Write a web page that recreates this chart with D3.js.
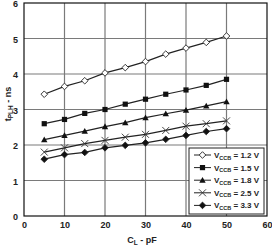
<!DOCTYPE html>
<html>
<head>
<meta charset="utf-8">
<script src="https://cdn.jsdelivr.net/npm/d3@7"></script>
<style>
  body { margin: 0; background: #fff; }
  svg { display: block; font-family: "Liberation Sans", Arial, sans-serif; }
  .tick text { font-size: 9px; font-weight: bold; fill: #222; }
</style>
</head>
<body>
<svg width="272" height="247"></svg>
<script>
const loads = [5, 10, 15, 20, 25, 30, 35, 40, 45, 50];
const v12 = [3.43, 3.65, 3.81, 4.03, 4.18, 4.35, 4.56, 4.73, 4.89, 5.07];
const v15 = [2.6, 2.72, 2.89, 3.0, 3.15, 3.29, 3.43, 3.55, 3.68, 3.85];
const v18 = [2.15, 2.27, 2.39, 2.52, 2.63, 2.77, 2.88, 2.98, 3.1, 3.22];
const v25 = [1.8, 1.92, 2.04, 2.13, 2.22, 2.3, 2.41, 2.53, 2.6, 2.68];
const v33 = [1.6, 1.73, 1.79, 1.92, 1.99, 2.06, 2.16, 2.27, 2.38, 2.46];
const seriesNames = ["1.2 V", "1.5 V", "1.8 V", "2.5 V", "3.3 V"];
const seriesSymbols = ["diamondOpen", "square", "triangle", "cross", "diamond"];
const xTicks = [0, 10, 20, 30, 40, 50, 60];
const yTicks = [0, 1, 2, 3, 4, 5, 6];

const svg = d3.select("svg"),
  margin = { top: 3, right: 5, bottom: 31, left: 24 },
  width = +svg.attr("width") - margin.left - margin.right,
  height = +svg.attr("height") - margin.top - margin.bottom;

const x = d3.scaleLinear().domain([0, 60]).range([0, width]),
  y = d3.scaleLinear().domain([0, 6]).range([height, 0]);

const g = svg.append("g").attr("transform", `translate(${margin.left},${margin.top})`);

// grid
g.append("g")
  .selectAll("line")
  .data(xTicks.slice(1, -1))
  .enter()
  .append("line")
  .attr("x1", (d) => x(d)).attr("x2", (d) => x(d))
  .attr("y1", 0).attr("y2", height)
  .attr("stroke", "#7a7a7a").attr("stroke-width", 1.2);
g.append("g")
  .selectAll("line")
  .data(yTicks.slice(1, -1))
  .enter()
  .append("line")
  .attr("y1", (d) => y(d)).attr("y2", (d) => y(d))
  .attr("x1", 0).attr("x2", width)
  .attr("stroke", "#7a7a7a").attr("stroke-width", 1.2);

// axes
g.append("g")
  .attr("transform", `translate(0,${height})`)
  .call(d3.axisBottom(x).tickValues(xTicks).tickFormat(d3.format("d")).tickSize(0).tickPadding(6))
  .call((a) => a.select(".domain").remove());
g.append("g")
  .call(d3.axisLeft(y).tickValues(yTicks).tickFormat(d3.format("d")).tickSize(0).tickPadding(6))
  .call((a) => a.select(".domain").remove())
  .selectAll(".tick text").attr("dy", "0.4em");

g.append("rect")
  .attr("width", width).attr("height", height)
  .attr("fill", "none").attr("stroke", "#111").attr("stroke-width", 1.2);

// axis titles
const xt = svg.append("text")
  .attr("x", 142).attr("y", 243)
  .attr("text-anchor", "middle")
  .attr("font-size", 9).attr("font-weight", "bold").attr("fill", "#222");
xt.append("tspan").text("C");
xt.append("tspan").attr("font-size", 6.5).attr("dy", 2).text("L");
xt.append("tspan").attr("dy", -2).text(" - pF");

const yt = svg.append("text")
  .attr("transform", "translate(11,104) rotate(-90)")
  .attr("text-anchor", "middle")
  .attr("font-size", 9).attr("font-weight", "bold").attr("fill", "#222");
yt.append("tspan").text("t");
yt.append("tspan").attr("font-size", 6.5).attr("dy", 2).text("PLH");
yt.append("tspan").attr("dy", -2).text(" - ns");

// symbols
function drawSymbol(sel, kind) {
  if (kind === "diamondOpen" || kind === "diamond") {
    sel.append("path").attr("d", "M0,-3.3L3.3,0L0,3.3L-3.3,0Z")
      .attr("fill", kind === "diamond" ? "#111" : "#fff")
      .attr("stroke", "#222").attr("stroke-width", 0.9);
  } else if (kind === "square") {
    sel.append("rect").attr("x", -2.6).attr("y", -2.6).attr("width", 5.2).attr("height", 5.2)
      .attr("fill", "#111");
  } else if (kind === "triangle") {
    sel.append("path").attr("d", "M0,-3.2L3.2,2.6L-3.2,2.6Z").attr("fill", "#111");
  } else if (kind === "cross") {
    sel.append("path").attr("d", "M-3.5,-3.5L3.5,3.5M-3.5,3.5L3.5,-3.5")
      .attr("stroke", "#333").attr("stroke-width", 0.9);
  }
}

const allSeries = [v12, v15, v18, v25, v33];
const line = d3.line().x((d, i) => x(loads[i])).y((d) => y(d));

allSeries.forEach((vals, s) => {
  g.append("path")
    .datum(vals)
    .attr("d", line)
    .attr("fill", "none")
    .attr("stroke", "#222")
    .attr("stroke-width", 1.2);
  g.append("g")
    .selectAll("g")
    .data(vals)
    .enter()
    .append("g")
    .attr("transform", (d, i) => `translate(${x(loads[i])},${y(d)})`)
    .each(function () { drawSymbol(d3.select(this), seriesSymbols[s]); });
});

// legend
const lg = svg.append("g").attr("transform", "translate(189,148)");
lg.append("rect")
  .attr("width", 75).attr("height", 66)
  .attr("fill", "#fff").attr("stroke", "#222").attr("stroke-width", 1);
seriesNames.forEach((name, i) => {
  const row = lg.append("g").attr("transform", `translate(0,${7 + i * 12.6})`);
  row.append("line").attr("x1", 5).attr("x2", 22).attr("stroke", "#222").attr("stroke-width", 1);
  drawSymbol(row.append("g").attr("transform", "translate(13.5,0)"), seriesSymbols[i]);
  const t = row.append("text")
    .attr("x", 25).attr("y", 3)
    .attr("font-size", 8).attr("font-weight", "bold").attr("fill", "#222");
  t.append("tspan").text("V");
  t.append("tspan").attr("font-size", 5.5).attr("dy", 1.5).text("CCB");
  t.append("tspan").attr("dy", -1.5).text(" = " + name);
});
</script>
</body>
</html>
